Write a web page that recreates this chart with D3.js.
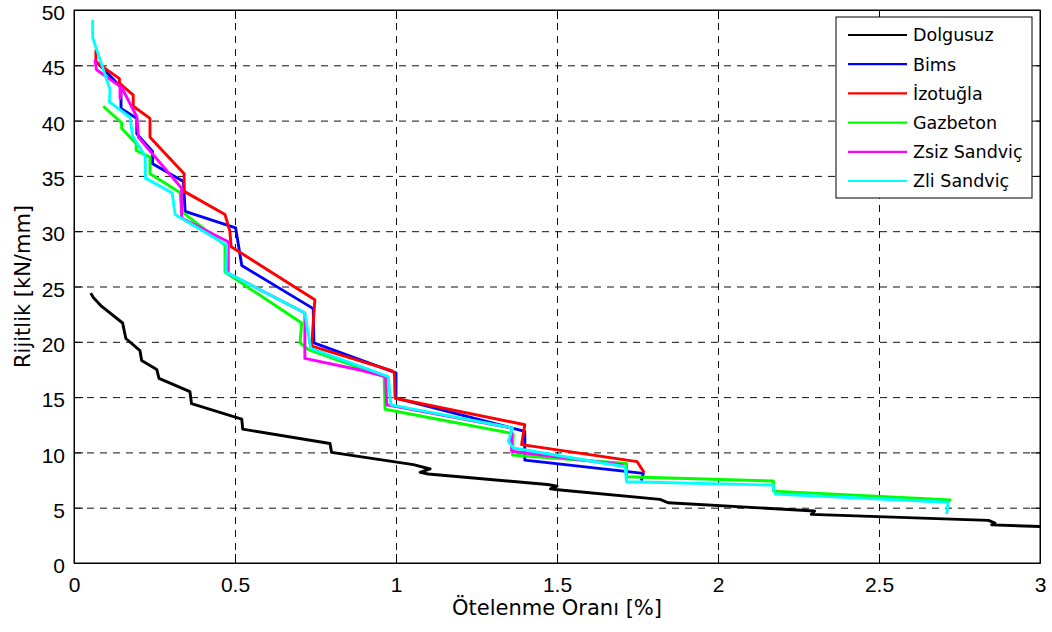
<!DOCTYPE html>
<html>
<head>
<meta charset="utf-8">
<script src="https://cdn.jsdelivr.net/npm/d3@7"></script>
<style>
  body { margin: 0; background: #fff; }
  svg { display: block; font-family: "DejaVu Sans", Verdana, sans-serif; }
  .tick text { font-size: 21px; fill: #000; }
  .grid line { stroke: #111; stroke-dasharray: 7,6; }
  .grid path { display: none; }
</style>
</head>
<body>
<svg id="chart" width="1052" height="632"></svg>
<script>

// ticks
var xTicks = [0, 0.5, 1, 1.5, 2, 2.5, 3];
var yTicks = [0, 5, 10, 15, 20, 25, 30, 35, 40, 45, 50];

// series [otelenme orani %, rijitlik kN/mm]
var dolgusuz = [[0.052,24.4],[0.06,24.0],[0.086,23.2],[0.151,21.7],[0.161,20.3],[0.205,19.2],[0.210,18.3],
    [0.257,17.5],[0.264,16.7],[0.360,15.5],[0.365,14.4],[0.521,13.0],[0.524,12.1],[0.795,10.8],[0.80,10.0],
    [1.054,8.9],[1.106,8.5],[1.075,8.2],[1.10,8.05],[1.47,7.1],[1.50,6.95],[1.48,6.7],[1.51,6.6],
    [1.82,5.75],[1.845,5.45],[2.30,4.7],[2.29,4.4],[2.84,3.85],[2.86,3.6],[2.85,3.45],[3.0,3.3]];

var bims = [[0.07,45.3],[0.143,43.1],[0.146,42.5],[0.146,41.1],[0.195,40.2],[0.195,38.8],[0.244,37.2],[0.244,36.1],
    [0.340,34.5],[0.345,31.8],[0.502,30.3],[0.521,26.9],[0.743,23.0],[0.745,19.9],[1.0,17.2],[1.0,14.9],
    [1.40,11.9],[1.40,9.3],[1.768,8.1],[1.762,7.45]];

var izotugla = [[0.068,46.4],[0.068,45.3],[0.141,43.8],[0.141,43.4],[0.184,42.3],[0.184,41.3],[0.236,40.2],
    [0.236,38.5],[0.342,35.2],[0.342,33.6],[0.469,31.5],[0.484,30.0],[0.488,28.6],[0.748,23.8],[0.738,19.6],
    [0.987,17.4],[0.995,17.2],[0.997,14.9],[1.40,12.5],[1.39,10.7],[1.749,9.16],[1.771,8.16]];

var gazbeton = [[0.091,41.3],[0.148,39.8],[0.148,39.3],[0.193,37.9],[0.193,37.3],[0.236,36.7],[0.236,35.2],
    [0.329,33.5],[0.334,31.8],[0.469,28.75],[0.469,26.3],[0.707,21.7],[0.702,19.9],[0.728,19.3],[0.963,16.85],
    [0.966,13.9],[1.364,11.7],[1.362,9.76],[1.716,9.0],[1.716,7.8],[2.172,7.41],[2.172,6.5],[2.724,5.7]];

var zsizSandvic = [[0.065,45.5],[0.07,44.6],[0.143,43.1],[0.143,42.0],[0.148,43.0],[0.195,40.35],[0.2,38.5],
    [0.334,33.9],[0.334,31.2],[0.479,29.05],[0.479,26.2],[0.717,22.6],[0.717,18.5],[0.888,17.45],[0.968,16.85],
    [0.971,14.3],[1.359,12.2],[1.359,10.1],[1.706,8.86]];

var zliSandvic = [[0.058,49.1],[0.058,47.5],[0.112,42.8],[0.110,41.7],[0.174,40.3],[0.182,38.6],[0.221,36.8],
    [0.222,34.8],[0.305,33.45],[0.314,31.5],[0.474,28.75],[0.472,26.3],[0.717,22.6],[0.735,19.4],[0.976,16.85],
    [0.984,14.3],[1.362,12.2],[1.349,11.0],[1.364,10.4],[1.711,8.7],[1.716,7.35],[2.17,7.05],[2.177,6.24],
    [2.715,5.49],[2.71,4.43]];

var seriesNames = ["Dolgusuz", "Bims", "İzotuğla", "Gazbeton", "Zsiz Sandviç", "Zli Sandviç"];
var seriesColors = ["#000000", "#0000ff", "#ff0000", "#00ff00", "#ff00ff", "#00ffff"];
var seriesData = [dolgusuz, bims, izotugla, gazbeton, zsizSandvic, zliSandvic];

dibujaGrafico();

function dibujaGrafico() {
    var margin = { left: 74, top: 10, right: 12, bottom: 69 };
    var ancho = 1052 - margin.left - margin.right;
    var alto = 632 - margin.top - margin.bottom;

    var svg = d3.select("#chart");
    var g = svg.append("g").attr("transform", "translate(" + margin.left + "," + margin.top + ")");

    var x = d3.scaleLinear().domain([0, 3]).range([0, ancho]);
    var y = d3.scaleLinear().domain([0, 50]).range([alto, 0]);

    // grilla punteada
    g.append("g").attr("class", "grid")
        .attr("transform", "translate(0," + alto + ")")
        .call(d3.axisBottom(x).tickValues(xTicks.slice(1, -1)).tickSize(-alto).tickFormat(""));
    g.append("g").attr("class", "grid")
        .call(d3.axisLeft(y).tickValues(yTicks.slice(1, -1)).tickSize(-ancho).tickFormat(""));

    // curvas
    var linea = d3.line().x(function (d) { return x(d[0]); }).y(function (d) { return y(d[1]); });
    for (var i = 0; i < seriesData.length; i++) {
        g.append("path")
            .datum(seriesData[i])
            .attr("fill", "none")
            .attr("stroke", seriesColors[i])
            .attr("stroke-width", 2.9)
            .attr("stroke-linejoin", "round")
            .attr("d", linea);
    }

    // ejes con ticks hacia adentro
    var fmt = d3.format("~g");
    g.append("g").attr("transform", "translate(0," + alto + ")")
        .call(d3.axisBottom(x).tickValues(xTicks).tickSize(-9).tickSizeOuter(0).tickPadding(14).tickFormat(fmt));
    g.append("g")
        .call(d3.axisLeft(y).tickValues(yTicks).tickSize(-9).tickSizeOuter(0).tickPadding(9).tickFormat(fmt))
        .selectAll(".tick text").attr("dy", "0.46em");
    g.append("g")
        .call(d3.axisTop(x).tickValues(xTicks).tickSize(-9).tickSizeOuter(0).tickFormat(""));
    g.append("g").attr("transform", "translate(" + ancho + ",0)")
        .call(d3.axisRight(y).tickValues(yTicks).tickSize(-9).tickSizeOuter(0).tickFormat(""));
    g.selectAll(".domain").attr("stroke", "#000");
    g.selectAll(".tick line").filter(function () { return !this.parentNode.parentNode.classList.contains("grid"); })
        .attr("stroke", "#000");

    g.append("rect")
        .attr("width", ancho).attr("height", alto)
        .attr("fill", "none").attr("stroke", "#000").attr("stroke-width", 1);

    // titulos de ejes
    svg.append("text")
        .attr("x", margin.left + ancho / 2).attr("y", 615)
        .attr("text-anchor", "middle")
        .attr("font-size", 21)
        .text("Ötelenme Oranı [%]");
    svg.append("text")
        .attr("transform", "translate(30," + (margin.top + alto / 2) + ") rotate(-90)")
        .attr("text-anchor", "middle")
        .attr("font-size", 21)
        .text("Rijitlik [kN/mm]");

    // leyenda
    var leyenda = svg.append("g").attr("transform", "translate(836,17)");
    leyenda.append("rect")
        .attr("width", 196).attr("height", 181)
        .attr("fill", "#fff").attr("stroke", "#000").attr("stroke-width", 1);
    for (var j = 0; j < seriesNames.length; j++) {
        var fila = leyenda.append("g").attr("transform", "translate(0," + (18 + j * 29.2) + ")");
        fila.append("line")
            .attr("x1", 12).attr("x2", 71)
            .attr("stroke", seriesColors[j]).attr("stroke-width", 2.2);
        fila.append("text")
            .attr("x", 77).attr("dy", "0.36em")
            .attr("font-size", 17.5)
            .text(seriesNames[j]);
    }
}
</script>
</body>
</html>
